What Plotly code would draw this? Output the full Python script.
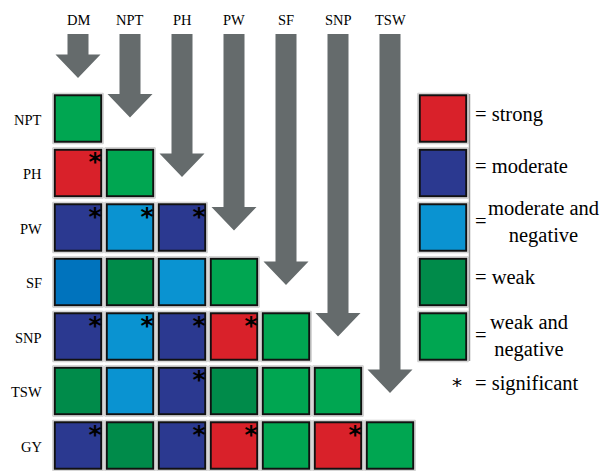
import plotly.graph_objects as go

# ---------------- data ----------------
col_labels = ["DM", "NPT", "PH", "PW", "SF", "SNP", "TSW"]
row_labels = ["NPT", "PH", "PW", "SF", "SNP", "TSW", "GY"]

# correlation class per cell (lower triangle, row by row)
cell_class = [
    ["weak_neg"],
    ["strong", "weak_neg"],
    ["moderate", "moderate_neg", "moderate"],
    ["moderate_neg_dark", "weak", "moderate_neg", "weak_neg"],
    ["moderate", "moderate_neg", "moderate", "strong", "weak_neg"],
    ["weak", "moderate_neg", "moderate", "weak", "weak_neg", "weak_neg"],
    ["moderate", "weak", "moderate", "strong", "weak_neg", "strong", "weak_neg"],
]
# significance flag per cell (1 = significant)
cell_signif = [
    [0],
    [1, 0],
    [1, 1, 1],
    [0, 0, 0, 0],
    [1, 1, 1, 1, 0],
    [0, 0, 1, 0, 0, 0],
    [1, 0, 1, 1, 0, 1, 0],
]
legend_classes = ["strong", "moderate", "moderate_neg", "weak", "weak_neg"]
legend_texts = ["= strong", "= moderate", "moderate and<br>negative", "= weak", "weak and<br>negative"]
signif_text = "= significant"

# ---------------- styles ----------------
colors = {
    "strong": "#d9212a",
    "moderate": "#2b3990",
    "moderate_neg": "#0a93d1",
    "moderate_neg_dark": "#0073bd",
    "weak": "#008b4a",
    "weak_neg": "#00a651",
}
ARROW = "#656b6c"
FONT = "Liberation Serif"
PX_X = 52.0     # pixels per column
PX_Y = 54.5     # pixels per row
W, H = 608, 471
X0, Y0 = 78.0, 118.5  # pixel centre of first cell
legend_text_dy = [-4, -7, -6, -5, -1]   # vertical offsets of legend texts (px)
legend_text_dx = [0, 0, 70, 0, 56]
legend_eq_dy = [0, 0, -7, 0, -1.5]

def dx(p):
    return p / PX_X

def dy(p):
    return p / PX_Y

fig = go.Figure()

# ---------------- cells ----------------
xs, ys, cs, sx, sy = [], [], [], [], []
for r, row in enumerate(cell_class):
    for c, cl in enumerate(row):
        xs.append(c)
        ys.append(r)
        cs.append(colors[cl])
        if cell_signif[r][c]:
            sx.append(c + dx(17))
            sy.append(r + dy(-9))

LX = 7 + dx(1)
lxs = [LX] * len(legend_classes)
lys = list(range(len(legend_classes)))

# faint grey outline behind every square
fig.add_trace(go.Scatter(
    x=xs + lxs, y=ys + lys, mode="markers",
    marker=dict(symbol="square", size=50.5, color="white",
                line=dict(color="#c9c9c9", width=1)),
    hoverinfo="skip", showlegend=False))

fig.add_trace(go.Scatter(
    x=xs, y=ys, mode="markers",
    marker=dict(symbol="square", size=46.5, color=cs,
                line=dict(color="#111111", width=2)),
    hoverinfo="skip", showlegend=False))

fig.add_trace(go.Scatter(
    x=sx, y=sy, mode="text", text=["<b>*</b>"] * len(sx),
    textposition="middle center",
    textfont=dict(family="DejaVu Sans", size=25, color="#000000"),
    hoverinfo="skip", showlegend=False))

# ---------------- legend squares ----------------
fig.add_trace(go.Scatter(
    x=lxs, y=lys, mode="markers",
    marker=dict(symbol="square", size=46.5,
                color=[colors[k] for k in legend_classes],
                line=dict(color="#111111", width=2)),
    hoverinfo="skip", showlegend=False))

# thin grey line right of legend squares
fig.add_shape(type="line", xref="x", yref="y",
              x0=LX + dx(26.5), x1=LX + dx(26.5),
              y0=0 - dy(24.5), y1=4 + dy(24.5),
              line=dict(color="#9a9a9a", width=1.5))

# ---------------- arrows ----------------
arrow_gap = [16, 31, 26, 27, 27, 30, 28]
shaft_top = -dy(Y0 - 34)
for c in range(len(col_labels)):
    tip = c - dy(24.5 + arrow_gap[c])
    hs = tip - dy(23.5)
    xl, xr = c - dx(10.5), c + dx(10.5)
    hl, hr = c - dx(22.5), c + dx(22.5)
    path = (f"M {xl},{shaft_top} L {xr},{shaft_top} L {xr},{hs} L {hr},{hs} "
            f"L {c},{tip} L {hl},{hs} L {xl},{hs} Z")
    fig.add_shape(type="path", path=path, xref="x", yref="y",
                  fillcolor=ARROW, line=dict(width=0), layer="below")

# ---------------- labels ----------------
for c, lab in enumerate(col_labels):
    fig.add_annotation(x=c, y=-dy(Y0 - 20), text=lab, showarrow=False,
                       xanchor="center", yanchor="middle",
                       font=dict(family=FONT, size=14.5, color="#000000"))
for r, lab in enumerate(row_labels):
    fig.add_annotation(x=-dx(X0 - 44), y=r + dy(1), text=lab, showarrow=False,
                       xanchor="right", yanchor="middle",
                       font=dict(family=FONT, size=14.5, color="#000000"))

# legend texts
TX = LX + dx(30)  # left of "=" sign
for i, t in enumerate(legend_texts):
    if t.startswith("="):
        fig.add_annotation(x=TX, y=i + dy(legend_text_dy[i]), text=t, showarrow=False,
                           xanchor="left", yanchor="middle",
                           font=dict(family=FONT, size=20.5, color="#000000"))
    else:
        fig.add_annotation(x=TX, y=i + dy(legend_eq_dy[i]), text="=", showarrow=False,
                           xanchor="left", yanchor="middle",
                           font=dict(family=FONT, size=20.5, color="#000000"))
        fig.add_annotation(x=TX + dx(legend_text_dx[i]), y=i + dy(legend_text_dy[i]),
                           text=t, showarrow=False, xanchor="center", yanchor="middle",
                           font=dict(family=FONT, size=20.5, color="#000000"))

fig.add_annotation(x=LX + dx(14), y=5 - dy(6), text="*", showarrow=False,
                   xanchor="center", yanchor="middle",
                   font=dict(family="DejaVu Sans", size=20, color="#000000"))
fig.add_annotation(x=TX, y=5 - dy(8), text=signif_text, showarrow=False,
                   xanchor="left", yanchor="middle",
                   font=dict(family=FONT, size=20.5, color="#000000"))

# ---------------- layout ----------------
fig.update_layout(
    width=W, height=H,
    margin=dict(l=0, r=0, t=0, b=0),
    paper_bgcolor="white", plot_bgcolor="white",
    xaxis=dict(range=[-X0 / PX_X, (W - X0) / PX_X], visible=False, fixedrange=True),
    yaxis=dict(range=[(H - Y0) / PX_Y, -Y0 / PX_Y], visible=False, fixedrange=True),
    showlegend=False,
)

fig.write_html("out.html", config={"displayModeBar": False},
               post_script="document.body.style.margin='0px';")
